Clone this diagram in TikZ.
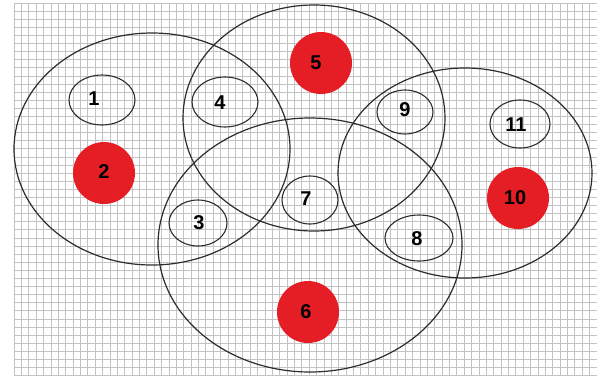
\documentclass[tikz,border=0pt]{standalone}
\usepackage{fontspec}
\setmainfont{Liberation Sans}
\usetikzlibrary{shapes.geometric}
\definecolor{dotred}{RGB}{228,30,36}
\definecolor{gridc}{RGB}{195,195,195}
\definecolor{linec}{RGB}{45,45,45}
\begin{document}
\begin{tikzpicture}[x=1pt,y=-1pt,
  big/.style={draw=linec, line width=1.2pt, ellipse, inner sep=0pt},
  small/.style={draw=linec, line width=1.1pt, ellipse, inner sep=0pt},
  dot/.style={circle, fill=dotred, minimum size=62pt, inner sep=0pt},
  lab/.style={font=\bfseries\fontsize{20}{20}\selectfont, inner sep=0pt}]
\useasboundingbox (0,0) rectangle (597,378);
\fill[white] (0,0) rectangle (597,378);
% grid
\foreach \i in {0,...,79} \draw[gridc, line width=0.8pt] ({14+\i*7.38},3) -- ({14+\i*7.38},376);
\foreach \j in {0,...,46} \draw[gridc, line width=0.8pt] (14,{3+\j*8.1}) -- (597,{3+\j*8.1});
% red dots
\node[dot] (d5) at (321,63) {};
\node[dot] (d2) at (104,173) {};
\node[dot] (d10) at (518,198) {};
\node[dot] (d6) at (308,312) {};
% big ellipses
\node[big, minimum width=276pt, minimum height=232pt] (A) at (152,149) {};
\node[big, minimum width=262pt, minimum height=226pt] (B) at (314,118) {};
\node[big, minimum width=304pt, minimum height=254pt] (C) at (310,245) {};
\node[big, minimum width=254pt, minimum height=210pt] (D) at (465,173) {};
% small ellipses
\node[small, minimum width=66pt, minimum height=50pt] (e1) at (102,100) {};
\node[small, minimum width=66pt, minimum height=50pt] (e4) at (225,102) {};
\node[small, minimum width=56pt, minimum height=44pt] (e9) at (405,112) {};
\node[small, minimum width=60pt, minimum height=48pt] (e11) at (520,124) {};
\node[small, minimum width=56pt, minimum height=48pt] (e7) at (310,200) {};
\node[small, minimum width=58pt, minimum height=46pt] (e3) at (198,223) {};
\node[small, minimum width=68pt, minimum height=46pt] (e8) at (419,238) {};
% labels
\node[lab] (l1) at (94,99) {1};
\node[lab] (l2) at (104,172) {2};
\node[lab] (l3) at (199,223) {3};
\node[lab] (l4) at (220,103) {4};
\node[lab] (l5) at (316,63) {5};
\node[lab] (l6) at (306,312) {6};
\node[lab] (l7) at (306,199) {7};
\node[lab] (l8) at (417,239) {8};
\node[lab] (l9) at (405,110) {9};
\node[lab] (l10) at (515,198) {10};
\node[lab] (l11) at (516,125) {11};
\end{tikzpicture}
\end{document}
